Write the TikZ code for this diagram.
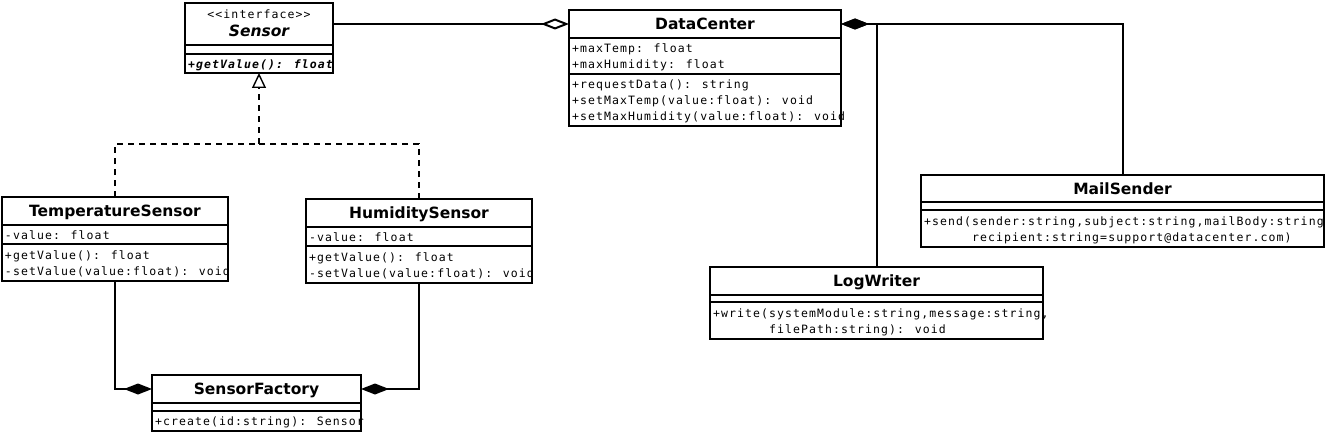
\documentclass[tikz,border=0pt]{standalone}
\usepackage{fontspec}
\usetikzlibrary{arrows.meta}
\newfontfamily\headfont{DejaVu Sans}
\newfontfamily\membfont[LetterSpace=9.5]{DejaVu Sans Mono}

\begin{document}
\begin{tikzpicture}[x=1pt,y=-1pt,line width=2pt,line join=miter,
  box/.style={draw,rectangle,inner sep=0pt,outer sep=0pt,anchor=north west},
  title/.style={box,font=\headfont\bfseries\fontsize{15.5}{18}\selectfont,text height=11.3pt,text depth=0pt},
  memb/.style={inner sep=0pt,anchor=north west,align=left,font=\membfont\fontsize{11.5}{16}\selectfont},
  aggr/.style={{Diamond[open,length=28pt,width=11pt]}-},
  compo/.style={{Diamond[length=28pt,width=11pt]}-},
  real/.style={dash pattern=on 6pt off 5pt},
  realtip/.style={-{Triangle[open,length=15pt,width=14pt,line width=1.4pt]}}]
\useasboundingbox (0,0) rectangle (1325,433);

% interface
\node[box,minimum width=148pt,minimum height=70pt] (sensor) at (185,3) {};
\node[box,minimum width=148pt,minimum height=42pt] (sensortitle) at (185,3) {};
\draw (185,54)--(333,54);
\node[memb,anchor=center,font=\membfont\fontsize{11.5}{12}\selectfont] (sensorstereo) at (259,14) {<<interface>>};
\node[anchor=center,inner sep=0pt,font=\headfont\bfseries\itshape\fontsize{15.5}{18}\selectfont,text height=11.3pt,text depth=0pt] (sensorname) at (259,31) {Sensor};
\node[memb,font=\membfont\bfseries\itshape\fontsize{11.5}{16}\selectfont] (sensorops) at (187,58.6) {+getValue(): float};

% data center
\node[box,minimum width=272pt,minimum height=116pt] (dc) at (569,10) {};
\node[title,minimum width=272pt,minimum height=28pt] (dctitle) at (569,10) {DataCenter};
\draw (569,74)--(841,74);
\node[memb] (dcattr) at (571,43.1) {+maxTemp: float\\+maxHumidity: float};
\node[memb] (dcops) at (571,79.1) {+requestData(): string\\+setMaxTemp(value:float): void\\+setMaxHumidity(value:float): void};

% sensors
\node[box,minimum width=226pt,minimum height=84pt] (temp) at (2,197) {};
\node[title,minimum width=226pt,minimum height=28pt] (temptitle) at (2,197) {TemperatureSensor};
\draw (2,244)--(228,244);
\node[memb] (tempattr) at (4,229.6) {-value: float};
\node[memb] (tempops) at (4,249.6) {+getValue(): float\\-setValue(value:float): void};

\node[box,minimum width=226pt,minimum height=84pt] (hum) at (306,199) {};
\node[title,minimum width=226pt,minimum height=28pt] (humtitle) at (306,199) {HumiditySensor};
\draw (306,246)--(532,246);
\node[memb] (humattr) at (308,231.6) {-value: float};
\node[memb] (humops) at (308,251.6) {+getValue(): float\\-setValue(value:float): void};

% factory
\node[box,minimum width=209pt,minimum height=56pt] (fac) at (152,375) {};
\node[title,minimum width=209pt,minimum height=28pt] (factitle) at (152,375) {SensorFactory};
\draw (152,411)--(361,411);
\node[memb] (facops) at (154,415.6) {+create(id:string): Sensor};

% mail and log
\node[box,minimum width=403pt,minimum height=72pt] (mail) at (921,175) {};
\node[title,minimum width=403pt,minimum height=27pt] (mailtitle) at (921,175) {MailSender};
\draw (921,210)--(1324,210);
\node[memb] (mailops) at (923,215.6) {+send(sender:string,subject:string,mailBody:string\\\hspace*{48pt}recipient:string=support@datacenter.com)};

\node[box,minimum width=333pt,minimum height=72pt] (log) at (710,267) {};
\node[title,minimum width=333pt,minimum height=28pt] (logtitle) at (710,267) {LogWriter};
\draw (710,302)--(1043,302);
\node[memb] (logops) at (712,307.6) {+write(systemModule:string,message:string,\\\hspace*{56pt}filePath:string): void};

% relations
\draw[aggr] (dctitle.west)--(sensortitle.east);
\draw[compo] (dctitle.east)-|(mail.north);
\draw[compo] (dctitle.east)-|(log.north);
\coordinate (fork) at (259,144);
\draw[real] (temp.north)|-(fork);
\draw[real] (hum.north)|-(fork);
\draw[real,realtip] (fork)--(sensor.south);
\draw[compo] (factitle.west)-|(temp.south);
\draw[compo] (factitle.east)-|(hum.south);
\end{tikzpicture}
\end{document}
